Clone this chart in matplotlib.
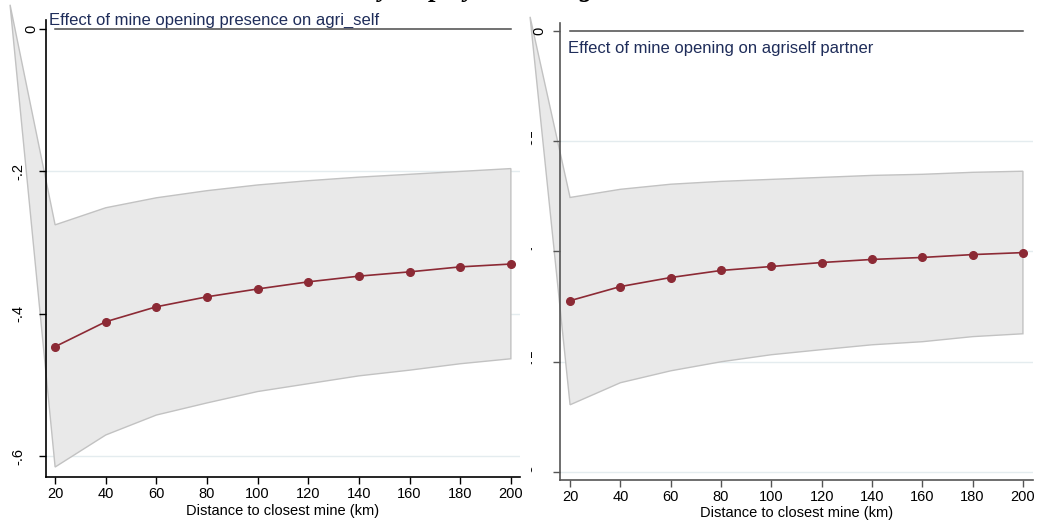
import matplotlib
matplotlib.use("Agg")
import matplotlib.pyplot as plt
from matplotlib.transforms import Bbox
from matplotlib.font_manager import FontProperties

# ---------------- data ----------------
distance = [20, 40, 60, 80, 100, 120, 140, 160, 180, 200]

left_est = [-0.446, -0.411, -0.390, -0.376, -0.365, -0.355, -0.347, -0.341, -0.334, -0.330]
left_hi = [-0.275, -0.251, -0.237, -0.227, -0.219, -0.213, -0.208, -0.204, -0.200, -0.196]
left_lo = [-0.615, -0.570, -0.542, -0.525, -0.509, -0.498, -0.487, -0.479, -0.470, -0.463]
left_anchor = (2.2, 0.034)   # stray vertex of the CI polygon (outside the plot)

right_est = [-0.1223, -0.1159, -0.1118, -0.1086, -0.1068, -0.1050, -0.1036, -0.1027, -0.1014, -0.1005]
right_hi = [-0.0755, -0.0718, -0.0695, -0.0682, -0.0673, -0.0664, -0.0655, -0.0650, -0.0641, -0.0636]
right_lo = [-0.1695, -0.1595, -0.1541, -0.1500, -0.1468, -0.1445, -0.1423, -0.1409, -0.1386, -0.1373]
right_anchor = (4.1, 0.0064)

left_yticks = [0, -0.2, -0.4, -0.6]
left_yticklabels = ["0", "-.2", "-.4", "-.6"]
right_yticks = [0, -0.05, -0.10, -0.15, -0.20]
right_yticklabels = ["0", "-.05", "-.1", "-.15", "-.2"]
xticks = [20, 40, 60, 80, 100, 120, 140, 160, 180, 200]

title = "By employment in agriculture"
left_sub = "Effect of mine opening presence on agri_self"
right_sub = "Effect of mine opening on agriself partner"
xlabel = "Distance to closest mine (km)"

# ---------------- styling ----------------
W, H = 1040, 523
plt.rcParams["font.family"] = ["Liberation Sans", "DejaVu Sans"]
LINE_C = "#8c2a35"
BAND_FC = "#e9e9e9"
BAND_EC = "#c2c2c2"
GRID_C = "#e4ecef"
SUB_C = "#1f2d5a"

fig = plt.figure(figsize=(W / 100, H / 100), dpi=100)


def px_axes(x0, y0, x1, y1):
    return fig.add_axes([x0 / W, 1 - y1 / H, (x1 - x0) / W, (y1 - y0) / H])


def panel(ax, est, hi, lo, anchor, ylim, xlim, yticks, ylabels, spine_c,
          ypad, zero_pad):
    xs = distance + distance[::-1] + [anchor[0]]
    ys = hi + lo[::-1] + [anchor[1]]
    ax.fill(xs, ys, facecolor=BAND_FC, edgecolor=BAND_EC, lw=1.0,
            clip_on=False, zorder=1)
    for t in yticks[1:]:
        ax.axhline(t, color=GRID_C, lw=1.0, zorder=0.5)
    ax.plot([distance[0], distance[-1]], [0, 0], color="#4a4a4a", lw=1.1, zorder=2)
    ax.plot(distance, est, color=LINE_C, lw=1.2, marker="o", ms=5.5,
            markerfacecolor=LINE_C, markeredgecolor=LINE_C, zorder=3)
    ax.set_xlim(*xlim)
    ax.set_ylim(*ylim)
    ax.set_xticks(xticks)
    ax.set_yticks(yticks)
    ax.set_yticklabels(ylabels, rotation=90, va="center")
    ax.tick_params(axis="both", labelsize=10.5, length=5, width=1.0,
                   color=spine_c, direction="out")
    ax.tick_params(axis="y", pad=ypad)
    ax.tick_params(axis="x", pad=2)
    ticks = ax.yaxis.get_major_ticks()
    try:
        ticks[0].set_pad(zero_pad)
    except Exception:
        ticks[0]._apply_params(pad=zero_pad)
    for s in ("top", "right"):
        ax.spines[s].set_visible(False)
    for s in ("left", "bottom"):
        ax.spines[s].set_color(spine_c)
        ax.spines[s].set_linewidth(1.2)
    ax.set_xlabel(xlabel, fontsize=10.5, labelpad=2)
    ax.patch.set_alpha(0)


axL = px_axes(46, 20, 520, 477)
panel(axL, left_est, left_hi, left_lo, left_anchor,
      (-0.629, 0.0126), (16.4, 203.6), left_yticks, left_yticklabels, "black",
      9.6, 0.5)

axR = px_axes(560, 23, 1033, 480)
panel(axR, right_est, right_hi, right_lo, right_anchor,
      (-0.2036, 0.0036), (16.0, 204.0), right_yticks, right_yticklabels, "#555555",
      6, 5)

# the right panel's non-zero y labels are mostly hidden in the reference
fig.canvas.draw()
clip = Bbox.from_extents(527, 0, 532, H)
for lab in axR.get_yticklabels()[1:]:
    lab.set_clip_box(clip)
    lab.set_clip_on(True)

fig.text(49 / W, 1 - 25 / H, left_sub, color=SUB_C, fontsize=12,
         ha="left", va="baseline")
fig.text(568 / W, 1 - 53 / H, right_sub, color=SUB_C, fontsize=12,
         ha="left", va="baseline")

# Title: only its descenders show at the top edge in the reference.
renderer = fig.canvas.get_renderer()
tfp = FontProperties(family=["Liberation Serif", "DejaVu Serif"],
                     weight="bold", style="italic", size=20)


def text_w(s, fp):
    t = fig.text(0, 0, s, fontproperties=fp)
    w = t.get_window_extent(renderer).width
    t.remove()
    return w


y_off = text_w("B", tfp) + text_w("y", tfp) / 2
g_off = text_w("By employment in a", tfp) + text_w("g", tfp) / 2
scale = 202.0 / (g_off - y_off)
tfp.set_size(20 * scale)
x_start = 385 - y_off * scale
fig.text(x_start / W, 1 + 3.5 / H, title, fontproperties=tfp,
         ha="left", va="baseline")

fig.savefig("out.png", dpi=100)
